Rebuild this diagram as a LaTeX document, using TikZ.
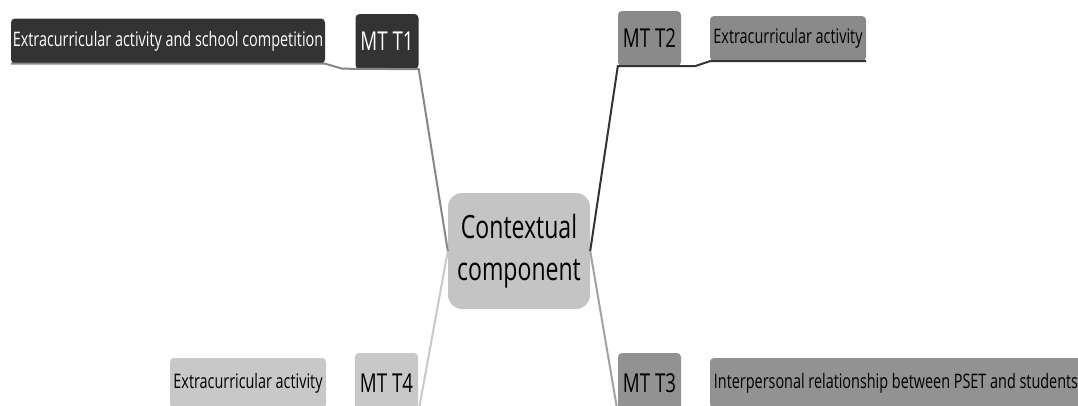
\documentclass[tikz,border=0pt]{standalone}
\usepackage{fontspec}
\setmainfont{Open Sans}[FakeStretch=0.72]
\usepackage{tikz}
\usetikzlibrary{positioning}

\definecolor{darkbox}{HTML}{333333}
\definecolor{midbox}{HTML}{8A8A8A}
\definecolor{tthree}{HTML}{929292}
\definecolor{lightbox}{HTML}{C8C8C8}
\definecolor{centerbox}{HTML}{C4C4C4}

\begin{document}
\begin{tikzpicture}[x=1pt, y=-1pt,
    box/.style={rounded corners=4pt, inner sep=0pt, align=center},
    topic/.style={box, minimum width=63pt, minimum height=55pt, font=\fontsize{26}{28}\selectfont},
    leaf/.style={box, minimum height=45pt, font=\fontsize{20}{22}\selectfont},
    hub/.style={box, rounded corners=14pt, fill=centerbox, minimum width=142pt, minimum height=116pt, font=\fontsize{32}{42}\selectfont},
    link/.style={line width=2pt}]
   \useasboundingbox (0,0) rectangle (1078,405);
   \clip (0,0) rectangle (1078,405);

   \node[hub] (ctx) at (519,251) {Contextual\\component};

   \node[topic, fill=darkbox, text=white] (mt1) at (387,41.5) {MT T1};
   \node[leaf, fill=darkbox, text=white, minimum width=314pt] (ea1) at (168,41) {Extracurricular activity and school competition};

   \node[topic, fill=midbox] (mt2) at (649.5,38.5) {MT T2};
   \node[leaf, fill=midbox, minimum width=156pt] (ea2) at (788,38.5) {Extracurricular activity};

   \node[topic, fill=tthree, minimum height=60pt] (mt3) at (649.5,383) {MT T3};
   \node[leaf, fill=tthree, minimum width=372pt, minimum height=50pt] (ip3) at (896,383) {Interpersonal relationship between PSET and students};

   \node[topic, fill=lightbox, minimum height=60pt] (mt4) at (386.5,383) {MT T4};
   \node[leaf, fill=lightbox, minimum width=156pt, minimum height=50pt] (ea4) at (248,383) {Extracurricular activity};

    % branches
    \draw[link, color=gray!95] (ea1.south west) -- (ea1.south east) -- ++(17,5) -- (mt1.south east) -- (ctx.west);
    \draw[link, color=darkbox] (ea2.south east) -- (ea2.south west) -- ++(-15,5) -- (mt2.south west) -- (ctx.east);
    \draw[link, color=tthree!85] (ctx.east) -- (mt3.south west);
    \draw[link, color=lightbox] (ctx.west) -- (mt4.south east);
\end{tikzpicture}
\end{document}
